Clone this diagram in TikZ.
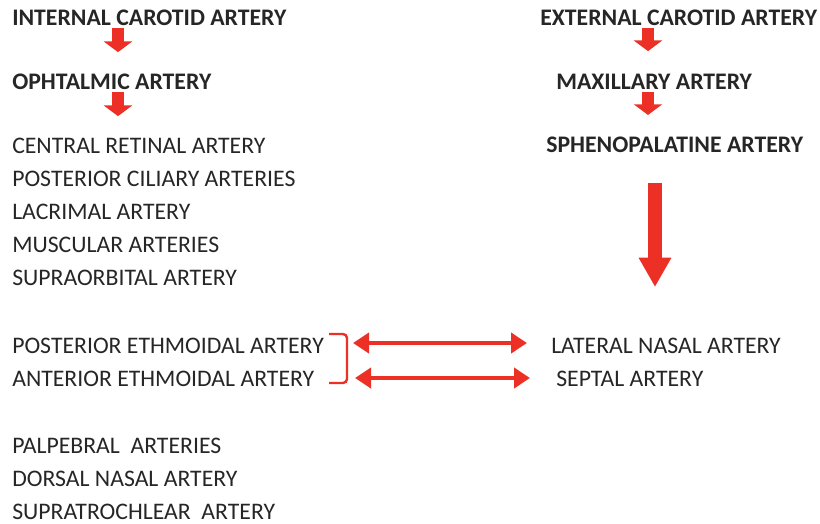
\documentclass[tikz,border=0pt]{standalone}
\usepackage{fontspec}
\setmainfont{Carlito}
\usetikzlibrary{arrows.meta,calc}
\definecolor{flowred}{RGB}{236,48,38}
\definecolor{inktext}{RGB}{38,38,38}
\tikzset{
  artery/.style={anchor=west,inner sep=0pt,text=inktext,font=\fontsize{17.8}{20}\selectfont},
  mainartery/.style={artery,font=\fontsize{17.8}{20}\selectfont\bfseries},
  downarrow/.style={draw=flowred,line width=8.5pt,-{Triangle[length=8pt,width=21pt]}},
  bigarrow/.style={draw=flowred,line width=10pt,-{Triangle[length=22pt,width=23pt]}},
  linkarrow/.style={draw=flowred,line width=3.6pt,{Triangle[length=12pt,width=15pt]}-{Triangle[length=12pt,width=15pt]}}
}

\begin{document}
\begin{tikzpicture}[x=0.75pt,y=-0.75pt]
  \useasboundingbox (0,0) rectangle (820,524);
  % internal carotid side
  \node[mainartery] (ica) at (12,18) {INTERNAL CAROTID ARTERY};
  \node[mainartery] (oph) at (12,82) {OPHTALMIC ARTERY};
  \node[artery] (crt) at (12,146) {CENTRAL RETINAL ARTERY};
  \node[artery] (pca) at (12,179) {POSTERIOR CILIARY ARTERIES};
  \node[artery] (lac) at (12,212) {LACRIMAL ARTERY};
  \node[artery] (mus) at (12,245) {MUSCULAR ARTERIES};
  \node[artery] (sor) at (12,278) {SUPRAORBITAL ARTERY};
  \node[artery] (pea) at (12,346) {POSTERIOR ETHMOIDAL ARTERY};
  \node[artery] (aea) at (12,379) {ANTERIOR ETHMOIDAL ARTERY};
  \node[artery] (pal) at (12,446) {PALPEBRAL\ \ ARTERIES};
  \node[artery] (dna) at (12,479) {DORSAL NASAL ARTERY};
  \node[artery] (stc) at (12,512) {SUPRATROCHLEAR\ \ ARTERY};
  % external carotid side
  \node[mainartery] (eca) at (540,18) {EXTERNAL CAROTID ARTERY};
  \node[mainartery] (max) at (556,82) {MAXILLARY ARTERY};
  \node[mainartery] (sph) at (546,145) {SPHENOPALATINE ARTERY};
  \node[artery] (lna) at (551,346) {LATERAL NASAL ARTERY};
  \node[artery] (sep) at (556,379) {SEPTAL ARTERY};
  \coordinate (nasal) at (655,287);

  \draw[downarrow] (ica.south -| 118,0) ++(0,2) -- ++(0,24);
  \draw[downarrow] (oph.south -| 118,0) ++(0,2) -- ++(0,24);
  \draw[downarrow] (eca.south -| 648,0) ++(0,2) -- ++(0,23);
  \draw[downarrow] (max.south -| 648,0) ++(0,2) -- ++(0,23);
  \draw[bigarrow] (sph.south -| nasal) ++(0,30) -- (nasal);

  % ethmoidal bracket
  \coordinate (brk1) at (353,343);
  \coordinate (brk2) at (355,378);
  \draw[flowred,line width=1.8pt,rounded corners=3pt]
    (329,334) -- (347,334) -- (347,383) -- (329,383);
  \draw[linkarrow] (brk1) -- ($(lna.west |- brk1)+(-24,0)$);
  \draw[linkarrow] (brk2) -- ($(sep.west |- brk2)+(-26,0)$);
\end{tikzpicture}
\end{document}
